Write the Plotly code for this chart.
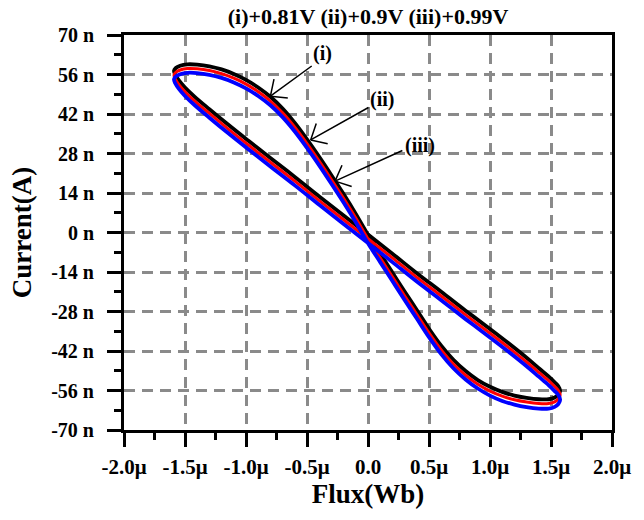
import math
import plotly.graph_objects as go

# ---- data (flux in µWb, current in nA) ----
flux = [-1.59, -1.575, -1.54, -1.48, -1.40, -1.30, -1.20, -1.10, -1.00, -0.90,
        -0.80, -0.70, -0.60, -0.50, -0.40, -0.30, -0.20, -0.10, 0.00, 0.10,
        0.20, 0.30, 0.40, 0.50, 0.60, 0.70, 0.80, 0.90, 1.00, 1.10,
        1.20, 1.30, 1.40, 1.48, 1.53, 1.56, 1.575,
        1.56, 1.53, 1.48, 1.40, 1.30, 1.15, 1.00, 0.80, 0.60, 0.40,
        0.20, 0.00, -0.20, -0.40, -0.60, -0.80, -0.98, -1.16, -1.30, -1.42,
        -1.50, -1.55, -1.58, -1.59]

current_i = [57.3, 58.3, 59.1, 59.6, 59.5, 58.9, 57.8, 56.2, 54.1, 51.4,
             48.1, 43.9, 38.8, 33.0, 26.8, 20.3, 13.6, 6.6, -0.8, -7.5,
             -14.2, -20.9, -27.5, -34.1, -40.1, -45.1, -49.1, -52.3, -54.7, -56.5,
             -57.8, -58.6, -59.1, -59.1, -58.5, -57.5, -56.1,
             -54.5, -53.1, -51.0, -48.1, -44.4, -39.2, -34.2, -27.7, -21.0, -14.4,
             -7.5, -0.7, 6.0, 12.8, 19.7, 26.4, 32.5, 38.7, 43.7, 48.1,
             51.4, 53.9, 55.9, 57.3]

current_ii = [55.8, 56.8, 57.6, 58.1, 58.0, 57.4, 56.3, 54.7, 52.6, 49.9,
              46.6, 42.4, 37.3, 31.5, 25.3, 18.8, 12.1, 5.1, -2.3, -9.0,
              -15.7, -22.4, -29.0, -35.6, -41.6, -46.6, -50.6, -53.8, -56.2, -58.0,
              -59.3, -60.1, -60.6, -60.6, -60.0, -59.0, -57.6,
              -56.0, -54.6, -52.5, -49.6, -45.9, -40.7, -35.7, -29.2, -22.5, -15.9,
              -9.0, -2.2, 4.5, 11.3, 18.2, 24.9, 31.0, 37.2, 42.2, 46.6,
              49.9, 52.4, 54.4, 55.8]

current_iii = [54.3, 55.3, 56.1, 56.6, 56.5, 55.9, 54.8, 53.2, 51.1, 48.4,
               45.1, 40.9, 35.8, 30.0, 23.8, 17.3, 10.6, 3.6, -3.8, -10.5,
               -17.2, -23.9, -30.5, -37.1, -43.1, -48.1, -52.1, -55.3, -57.8, -59.7,
               -61.0, -61.9, -62.4, -62.4, -61.8, -60.8, -59.3,
               -57.6, -56.2, -54.1, -51.1, -47.4, -42.2, -37.2, -30.7, -24.0, -17.4,
               -10.5, -3.7, 3.0, 9.8, 16.7, 23.4, 29.5, 35.7, 40.7, 45.1,
               48.4, 50.9, 52.9, 54.3]

x_ticks = [-2.0, -1.5, -1.0, -0.5, 0.0, 0.5, 1.0, 1.5, 2.0]
x_ticktext = ["-2.0\u03bc", "-1.5\u03bc", "-1.0\u03bc", "-0.5\u03bc", "0.0",
              "0.5\u03bc", "1.0\u03bc", "1.5\u03bc", "2.0\u03bc"]
y_ticks = [-70, -56, -42, -28, -14, 0, 14, 28, 42, 56, 70]
y_ticktext = ["-70 n", "-56 n", "-42 n", "-28 n", "-14 n", "0 n",
              "14 n", "28 n", "42 n", "56 n", "70 n"]

labels = ["(i)", "(ii)", "(iii)"]
label_pos = [(-0.37, 63.3), (0.115, 47.0), (0.43, 31.0)]
arrow_tail = [(-0.449, 59.4), (0.016, 44.6), (0.294, 29.3)]
arrow_tip = [(-0.80, 48.3), (-0.47, 32.8), (-0.27, 18.2)]

FONT = "Liberation Serif"

fig = go.Figure()
for ys, col, w in [(current_i, "#000000", 3.8), (current_ii, "#ff0000", 3.0), (current_iii, "#0000ff", 3.8)]:
    fig.add_trace(go.Scatter(x=flux, y=ys, mode="lines",
                             line=dict(color=col, width=w, shape="spline", smoothing=1.0),
                             showlegend=False, hoverinfo="skip"))

L, R, T, B = 123.5, 31.5, 35, 90
W, H = 644, 520
pw, ph = W - L - R, H - T - B
sx, sy = pw / 4.0, ph / 140.0

annotations = []
for lab, (lx, ly), (tx, ty), (hx, hy) in zip(labels, label_pos, arrow_tail, arrow_tip):
    annotations.append(dict(x=lx, y=ly, text="<b>%s</b>" % lab, showarrow=False,
                            font=dict(family=FONT, size=20, color="black")))
    annotations.append(dict(x=hx, y=hy, ax=tx, ay=ty, axref="x", ayref="y", text="",
                            showarrow=True, arrowhead=0, arrowwidth=1.5, arrowcolor="black"))
    dxp, dyp = (tx - hx) * sx, -(ty - hy) * sy
    ang = math.atan2(dyp, dxp)
    for da in (math.radians(42), -math.radians(42)):
        a = ang + da
        annotations.append(dict(x=hx, y=hy, ax=19 * math.cos(a), ay=19 * math.sin(a), text="",
                                showarrow=True, arrowhead=0, arrowwidth=1.5, arrowcolor="black"))

axis_common = dict(showline=True, linecolor="black", linewidth=3, mirror=True,
                   ticks="outside", ticklen=14, tickwidth=3, tickcolor="black",
                   showgrid=True, gridcolor="#8a8a8a", gridwidth=3, griddash="11px,7px",
                   zeroline=False)

fig.update_layout(
    width=W, height=H,
    margin=dict(l=L, r=R, t=T, b=B),
    paper_bgcolor="white", plot_bgcolor="white",
    title=dict(text="<b>(i)+0.81V (ii)+0.9V (iii)+0.99V</b>", x=0.5715, xanchor="center",
               y=0.969, yanchor="middle", font=dict(family=FONT, size=22, color="black")),
    xaxis=dict(range=[-2, 2], tickmode="array", tickvals=x_ticks,
               ticktext=["<b>%s</b>" % t for t in x_ticktext],
               tickfont=dict(family=FONT, size=21, color="black"),
               ticklabelstandoff=2,
               minor=dict(ticks="outside", ticklen=7, tickwidth=3, tickcolor="black",
                          tick0=0, dtick=0.25, showgrid=False),
               title=dict(text="<b>Flux(Wb)</b>", font=dict(family=FONT, size=27, color="black"),
                          standoff=4),
               **axis_common),
    yaxis=dict(range=[-70, 70], tickmode="array", tickvals=y_ticks,
               ticktext=["<b>%s</b>" % t for t in y_ticktext],
               tickfont=dict(family=FONT, size=20, color="black"),
               minor=dict(ticks="outside", ticklen=7, tickwidth=3, tickcolor="black",
                          tick0=0, dtick=7, showgrid=False),
               title=dict(text="<b>Current(A)</b>", font=dict(family=FONT, size=27, color="black"),
                          standoff=12),
               ticklabelstandoff=9,
               **axis_common),
    annotations=annotations,
)

fig.write_html("out.html")
